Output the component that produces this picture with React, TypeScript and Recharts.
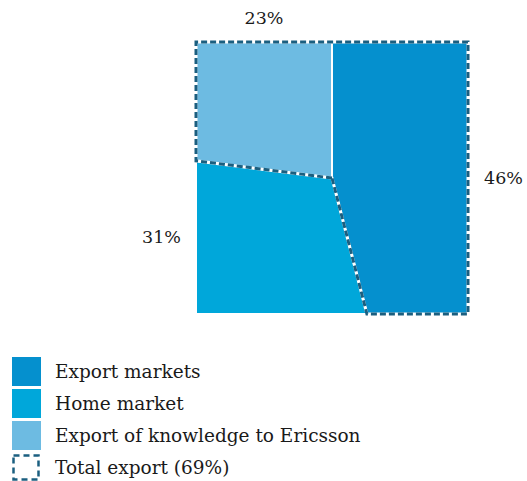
import React from 'react';
import { PieChart, Pie, Cell, Legend } from 'recharts';

// Slices, clockwise from 12 o'clock
const categories = ['Export markets', 'Home market', 'Export of knowledge to Ericsson'];
const shares = [46, 31, 23];
const colors = ['#0590ce', '#00a7da', '#6dbbe2'];

// Export markets + knowledge, outlined with a dashed border
const totalExportName = 'Total export';
const totalExportShare = 69;

const DASH_COLOR = '#1b5f80';
const FONT = '"DejaVu Serif", serif';

const CX = 332;
const CY = 178;
const HALF = 136;

const sliceData = categories.map((name, i) => ({ name, value: shares[i] }));
const outlineData = [
  { name: totalExportName, value: totalExportShare },
  { name: categories[1], value: shares[1] },
];
// outline starts where the knowledge slice starts
const outlineStart = 90 + (360 * shares[2]) / 100;

type Pt = [number, number];

// point where a ray from the centre leaves the square
const squarePoint = (cx: number, cy: number, half: number, deg: number): Pt => {
  const r = (deg * Math.PI) / 180;
  const dx = Math.cos(r);
  const dy = -Math.sin(r);
  const t = half / Math.max(Math.abs(dx), Math.abs(dy));
  return [cx + dx * t, cy + dy * t];
};

// pie wedge cut to a square instead of a circle
const wedgePoints = (cx: number, cy: number, half: number, start: number, end: number): Pt[] => {
  const pts: Pt[] = [[cx, cy], squarePoint(cx, cy, half, start)];
  const lo = Math.min(start, end);
  const hi = Math.max(start, end);
  const corners: number[] = [];
  for (let k = -6; k <= 6; k++) {
    const c = 45 + 90 * k;
    if (c > lo + 1e-6 && c < hi - 1e-6) corners.push(c);
  }
  corners.sort((a, b) => (end < start ? b - a : a - b));
  corners.forEach((c) => pts.push(squarePoint(cx, cy, half, c)));
  pts.push(squarePoint(cx, cy, half, end));
  return pts;
};

const toPoints = (pts: Pt[]) => pts.map((p) => `${p[0]},${p[1]}`).join(' ');

const SquareSector = (props: any) => {
  const { cx, cy, outerRadius, startAngle, endAngle, fill } = props;
  const pts = wedgePoints(cx, cy, outerRadius, startAngle, endAngle);
  return <polygon points={toPoints(pts)} fill={fill} stroke="#fff" strokeWidth={2} />;
};

const OutlineSector = (props: any) => {
  const { cx, cy, outerRadius, startAngle, endAngle, index } = props;
  if (index !== 0) return <g />;
  const pts = toPoints(wedgePoints(cx, cy, outerRadius, startAngle, endAngle));
  return (
    <g>
      <polygon points={pts} fill="none" stroke="#fff" strokeWidth={3} />
      <polygon points={pts} fill="none" stroke={DASH_COLOR} strokeWidth={3} strokeDasharray="6 3" />
    </g>
  );
};

// percentage next to the longest outer edge of each slice (bottom edge left for the legend)
const renderLabel = (props: any) => {
  const { cx, cy, outerRadius, startAngle, endAngle, value } = props;
  const pts = wedgePoints(cx, cy, outerRadius, startAngle, endAngle);
  let best = { len: -1, x: 0, y: 0, side: 'top' };
  for (let i = 1; i < pts.length - 1; i++) {
    const [x1, y1] = pts[i];
    const [x2, y2] = pts[i + 1];
    const len = Math.hypot(x2 - x1, y2 - y1);
    const mx = (x1 + x2) / 2;
    const my = (y1 + y2) / 2;
    let side = 'top';
    if (Math.abs(mx - (cx - outerRadius)) < 1) side = 'left';
    else if (Math.abs(mx - (cx + outerRadius)) < 1) side = 'right';
    else if (Math.abs(my - (cy + outerRadius)) < 1) side = 'bottom';
    if (side === 'bottom') continue;
    if (len > best.len) best = { len, x: mx, y: my, side };
  }
  let x = best.x;
  let y = best.y;
  let anchor: 'start' | 'middle' | 'end' = 'middle';
  if (best.side === 'top') y -= 24;
  if (best.side === 'left') { x -= 15; anchor = 'end'; }
  if (best.side === 'right') { x += 16; anchor = 'start'; }
  return (
    <text x={x} y={y} textAnchor={anchor} dominantBaseline="central" fill="#1a1a1a"
      fontFamily={FONT} fontSize={17.5}>
      {`${value}%`}
    </text>
  );
};

const LegendBox = () => (
  <div style={{ fontFamily: FONT, fontSize: 18.5, color: '#1a1a1a' }}>
    {categories.map((name, i) => (
      <div key={name} style={{ display: 'flex', alignItems: 'center', height: 32 }}>
        <span style={{ display: 'inline-block', width: 29, height: 29, background: colors[i], marginRight: 14 }} />
        <span>{name}</span>
      </div>
    ))}
    <div style={{ display: 'flex', alignItems: 'center', height: 32 }}>
      <svg width={29} height={29} style={{ marginRight: 14 }}>
        <rect x={1.5} y={2.5} width={25} height={24} fill="none" stroke={DASH_COLOR}
          strokeWidth={2.5} strokeDasharray="6 4" />
      </svg>
      <span>{`${totalExportName} (${totalExportShare}%)`}</span>
    </div>
  </div>
);

export default function App() {
  return (
    <div style={{ position: 'absolute', left: 0, top: 0, width: 527, height: 481, background: '#fff' }}>
      <PieChart width={527} height={481} margin={{ top: 0, right: 0, bottom: 0, left: 0 }}>
        <Pie
          data={sliceData}
          dataKey="value"
          cx={CX}
          cy={CY}
          outerRadius={HALF}
          startAngle={90}
          endAngle={-270}
          shape={SquareSector}
          activeShape={SquareSector}
          inactiveShape={SquareSector}
          label={renderLabel}
          labelLine={false}
          stroke="none"
          isAnimationActive={false}
        >
          {sliceData.map((d, i) => (
            <Cell key={d.name} fill={colors[i]} />
          ))}
        </Pie>
        <Pie
          data={outlineData}
          dataKey="value"
          cx={CX}
          cy={CY}
          outerRadius={HALF}
          startAngle={outlineStart}
          endAngle={outlineStart - 360}
          shape={OutlineSector}
          activeShape={OutlineSector}
          inactiveShape={OutlineSector}
          fill="none"
          stroke="none"
          legendType="none"
          isAnimationActive={false}
        />
        <Legend
          layout="vertical"
          align="center"
          verticalAlign="middle"
          content={<LegendBox />}
          wrapperStyle={{ left: 12, top: 355, width: 420 }}
        />
      </PieChart>
    </div>
  );
}
